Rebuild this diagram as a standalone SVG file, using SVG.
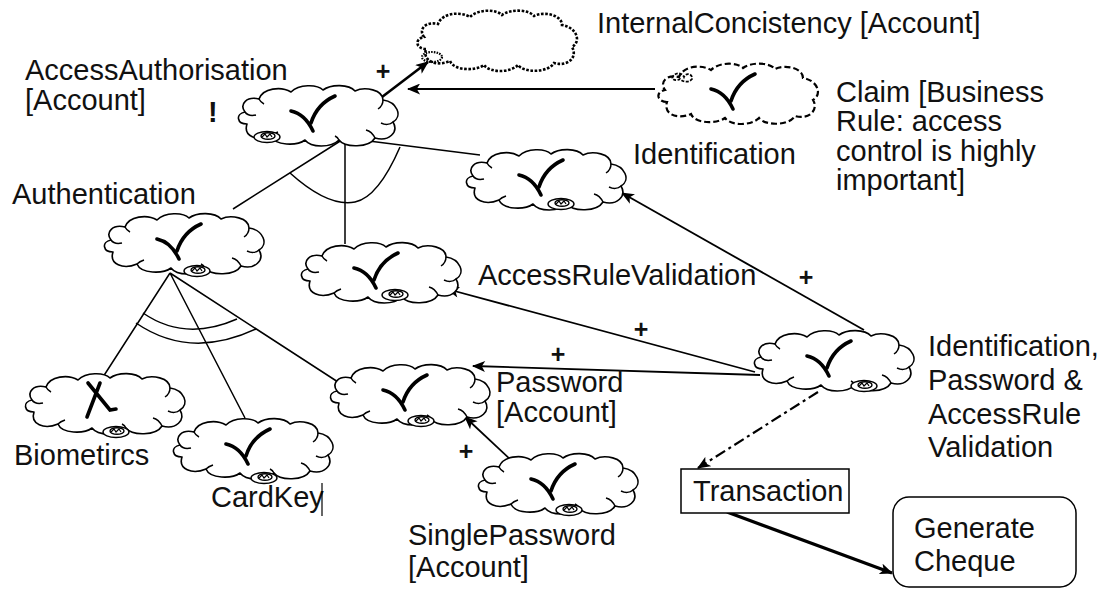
<svg xmlns="http://www.w3.org/2000/svg" xmlns:xlink="http://www.w3.org/1999/xlink" width="1099" height="590" viewBox="0 0 1099 590">
<style>
  text { font-family: "Liberation Sans", Arial, sans-serif; font-size: 29px; fill: #111; }
  .b { font-weight: bold; }
  .pl { font-weight: bold; font-size: 25px; text-anchor: middle; }
  .cl { fill: #fff; stroke: #000; stroke-width: 1.6; stroke-linejoin: round; }
  .dot { fill: #fff; stroke: #000; stroke-width: 2.6; stroke-dasharray: 2.6 1.6; }
  .dash { fill: #fff; stroke: #000; stroke-width: 2.2; stroke-dasharray: 6 3; }
  .ck { fill: none; stroke: #000; stroke-width: 3.6; stroke-linecap: round; }
  .ln { fill: none; stroke: #000; stroke-width: 1.5; }
  .ar { fill: none; stroke: #000; stroke-width: 1.8; marker-end: url(#ah); }
  .box { fill: #fff; stroke: #000; stroke-width: 1.5; }
</style>
<defs>
  <marker id="ah" viewBox="0 0 12 10" refX="11" refY="5" markerWidth="14" markerHeight="11" orient="auto" markerUnits="userSpaceOnUse">
    <path d="M0,0 L12,5 L0,10 L3,5 z" fill="#000"/>
  </marker>
  <path id="cloud" d="M12,40 C2,40 0,30 10,28 C4,20 12,12 24,15 C28,4 46,2 56,8 C64,0 82,0 88,6 C96,0 114,0 120,7 C130,2 148,6 148,16 C162,18 168,32 158,38 C164,48 154,58 140,54 C134,64 110,64 104,56 C96,64 76,64 70,56 C62,62 40,62 36,52 C22,58 8,52 12,40 Z"/>
  <path id="inner" d="M10,28 C12,31 16,32 21,31 M24,15 C25,17 27,19 29,20 M148,16 C148,20 146,23 143,25 M158,38 C155,41 150,41 146,39 M140,54 C138,50 135,47 131,46 M36,52 C38,50 40,49 43,48 M104,56 C103,54 102,53 100,52" fill="none"/>
  <path id="check" d="M56,27 Q70,30 78,47 M76,39 Q82,20 100,12"/>
  <g id="icon">
    <ellipse cx="0" cy="0" rx="13" ry="5.5" fill="#fff" stroke="#000" stroke-width="1.4"/>
    <ellipse cx="1" cy="-1" rx="7" ry="3.3" fill="#fff" stroke="#000" stroke-width="1.4"/>
    <path d="M-5,0 l3,-3 l2,3 l3,-3 l2,3" fill="none" stroke="#000" stroke-width="1.2"/>
  </g>
</defs>
<rect width="1099" height="590" fill="#fff"/>

<g id="connectors">
  <path class="ar" d="M382,97 L428,62" style="stroke-width:2.6"/>
  <path class="ar" d="M655,89 L408,89" style="stroke-width:2.2"/>
  <path class="ln" d="M345,138 L233,209 M345,133 L345,244 M345,138 L480,155"/>
  <path class="ln" d="M290,173 C320,200 340,205 355,202 C375,198 390,170 400,147"/>
  <path class="ln" d="M170,273 L103,377 M170,273 L245,418 M170,273 L338,382"/>
  <path class="ln" d="M143,313 Q185,342 237,319 M136,323 Q190,360 256,329"/>
  <path class="ar" d="M864,330 L622,193"/>
  <path class="ar" d="M755,372 L447,289"/>
  <path class="ar" d="M760,375 L473,366"/>
  <path class="ar" d="M512,461 L465,417"/>
  <path class="ar" d="M818,392 L698,468" style="stroke-width:2.2;stroke-dasharray:11 4 3 4"/>
  <path class="ar" d="M727,512 L892,573" style="stroke-width:3.2"/>
  <text class="pl" x="383" y="80">+</text>
  <text class="pl" x="806" y="286">+</text>
  <text class="pl" x="641" y="338">+</text>
  <text class="pl" x="558" y="363">+</text>
  <text class="pl" x="466" y="460">+</text>
</g>

<g id="internal-consistency">
  <use href="#cloud" class="dot" transform="translate(414,9)"/>
  <ellipse cx="432" cy="57" rx="10" ry="5" fill="none" stroke="#000" stroke-width="2.2" stroke-dasharray="1.5 1.2"/>
  <text x="597" y="33">InternalConcistency [Account]</text>
</g>

<g id="access-authorisation">
  <use href="#cloud" class="cl" transform="translate(235,84)"/>
  <use href="#inner" class="ln" transform="translate(235,84)"/>
  <use href="#check" class="ck" transform="translate(235,84)"/>
  <use href="#icon" transform="translate(267,137)"/>
  <text x="25" y="80">AccessAuthorisation</text>
  <text x="25" y="110">[Account]</text>
  <text class="b" x="208" y="122">!</text>
</g>

<g id="claim">
  <use href="#cloud" class="dash" transform="translate(655,62)"/>
  <use href="#check" class="ck" transform="translate(655,62)"/>
  <path d="M672,78 c3,-6 10,-6 12,-1 c2,-5 9,-3 8,2 c-3,4 -9,3 -12,0 c-3,2 -7,1 -8,-1" fill="none" stroke="#000" stroke-width="1.8" stroke-dasharray="3 1.5"/>
  <text x="836" y="102">Claim [Business</text>
  <text x="836" y="131">Rule: access</text>
  <text x="836" y="161">control is highly</text>
  <text x="836" y="190">important]</text>
</g>

<g id="identification">
  <use href="#cloud" class="cl" transform="translate(463,148)"/>
  <use href="#inner" class="ln" transform="translate(463,148)"/>
  <use href="#check" class="ck" transform="translate(463,148)"/>
  <use href="#icon" transform="translate(561,204)"/>
  <text x="633" y="164">Identification</text>
</g>

<g id="authentication">
  <use href="#cloud" class="cl" transform="translate(101,212)"/>
  <use href="#inner" class="ln" transform="translate(101,212)"/>
  <use href="#check" class="ck" transform="translate(101,212)"/>
  <use href="#icon" transform="translate(197,271)"/>
  <text x="12" y="204">Authentication</text>
</g>

<g id="access-rule-validation">
  <use href="#cloud" class="cl" transform="translate(298,241)"/>
  <use href="#inner" class="ln" transform="translate(298,241)"/>
  <use href="#check" class="ck" transform="translate(298,241)"/>
  <use href="#icon" transform="translate(395,295)"/>
  <text x="478" y="285">AccessRuleValidation</text>
</g>

<g id="biometircs">
  <use href="#cloud" class="cl" transform="translate(22,372)"/>
  <use href="#inner" class="ln" transform="translate(22,372)"/>
  <path class="ck" d="M88,383 L110,410 L116,409 M100,383 L87,417"/>
  <use href="#icon" transform="translate(116,432)"/>
  <text x="14" y="465">Biometircs</text>
</g>

<g id="cardkey">
  <use href="#cloud" class="cl" transform="translate(170,417)"/>
  <use href="#inner" class="ln" transform="translate(170,417)"/>
  <use href="#check" class="ck" transform="translate(170,417)"/>
  <use href="#icon" transform="translate(264,478)"/>
  <text x="211" y="507">CardKey</text>
  <line x1="322" y1="483" x2="322" y2="516" stroke="#000" stroke-width="1.2"/>
</g>

<g id="password">
  <use href="#cloud" class="cl" transform="translate(327,363)"/>
  <use href="#inner" class="ln" transform="translate(327,363)"/>
  <use href="#check" class="ck" transform="translate(327,363)"/>
  <use href="#icon" transform="translate(421,421)"/>
  <text x="496" y="392">Password</text>
  <text x="496" y="422">[Account]</text>
</g>

<g id="single-password">
  <use href="#cloud" class="cl" transform="translate(475,452)"/>
  <use href="#inner" class="ln" transform="translate(475,452)"/>
  <use href="#check" class="ck" transform="translate(475,452)"/>
  <use href="#icon" transform="translate(569,510)"/>
  <text x="408" y="545">SinglePassword</text>
  <text x="408" y="577">[Account]</text>
</g>

<g id="id-password-arv">
  <use href="#cloud" class="cl" transform="translate(751,329)"/>
  <use href="#inner" class="ln" transform="translate(751,329)"/>
  <use href="#check" class="ck" transform="translate(751,329)"/>
  <use href="#icon" transform="translate(864,386)"/>
  <text x="928" y="356">Identification,</text>
  <text x="928" y="390">Password &amp;</text>
  <text x="928" y="424">AccessRule</text>
  <text x="928" y="457">Validation</text>
</g>

<g id="transaction">
  <rect class="box" x="681" y="469" width="168" height="44"/>
  <text x="693" y="501">Transaction</text>
</g>

<g id="generate-cheque">
  <rect class="box" x="893" y="497" width="183" height="90" rx="16"/>
  <text x="914" y="538">Generate</text>
  <text x="914" y="571">Cheque</text>
</g>
</svg>
